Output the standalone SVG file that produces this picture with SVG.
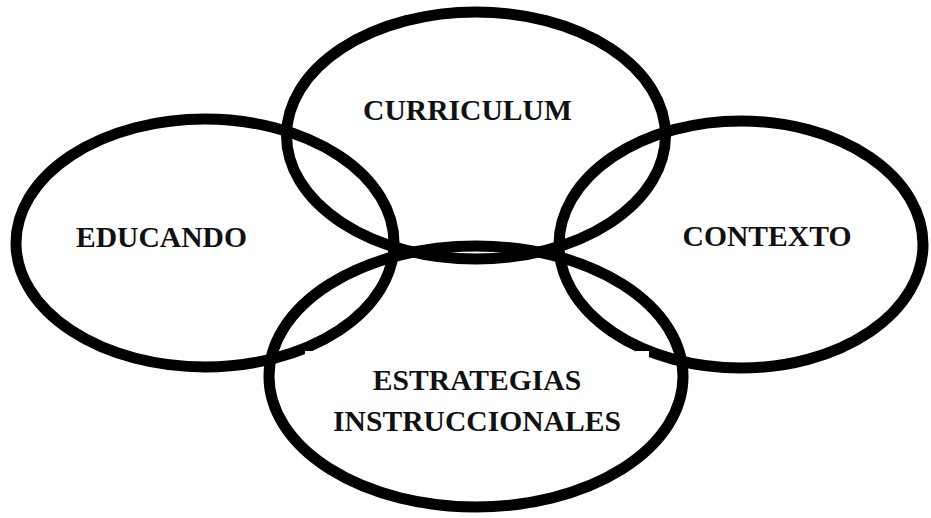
<svg xmlns="http://www.w3.org/2000/svg" width="931" height="518" viewBox="0 0 931 518">
<style>
.ring{fill:none;stroke:#000;stroke-width:11}
.lbl{font-family:"Liberation Serif","Times New Roman",serif;font-weight:bold;font-size:29.6px;fill:#111;text-anchor:middle}
</style>
<rect width="931" height="518" fill="#fff"/>
<g id="educando">
<ellipse class="ring" cx="205" cy="243" rx="189" ry="124"/>
<text class="lbl" x="161.5" y="246.5">EDUCANDO</text>
</g>
<g id="curriculum">
<ellipse class="ring" cx="476" cy="135.5" rx="189.5" ry="123.5"/>
<text class="lbl" x="467.5" y="120">CURRICULUM</text>
</g>
<g id="contexto">
<ellipse class="ring" cx="741" cy="244.5" rx="182" ry="123.5"/>
<text class="lbl" x="767" y="246">CONTEXTO</text>
</g>
<g id="estrategias">
<ellipse class="ring" cx="476" cy="376.5" rx="207" ry="130.5"/>
<text class="lbl" x="477" y="390">ESTRATEGIAS</text>
<text class="lbl" x="477" y="431">INSTRUCCIONALES</text>
</g>
<g id="connectors">
<rect x="305" y="351" width="15" height="6" fill="#fff"/>
<rect x="636" y="351" width="13" height="6" fill="#fff"/>
</g>
</svg>
